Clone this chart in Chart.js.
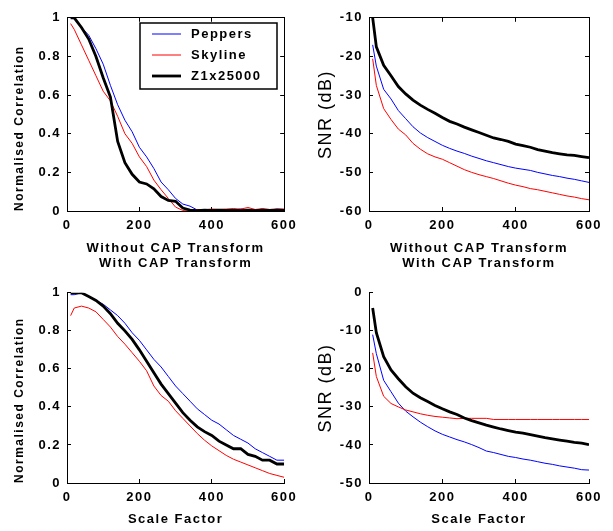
<!DOCTYPE html>
<html>
<head>
<meta charset="utf-8">
<script src="https://cdn.jsdelivr.net/npm/chart.js@4.4.1/dist/chart.umd.min.js"></script>
<style>
  html, body { margin: 0; padding: 0; background: #fff; }
  #wrap { position: relative; width: 613px; height: 531px; }
  canvas { position: absolute; }
</style>
</head>
<body>
<div id="wrap">
  <canvas id="c1" width="306" height="275" style="left:0;top:0"></canvas>
  <canvas id="c2" width="307" height="275" style="left:306px;top:0"></canvas>
  <canvas id="c3" width="306" height="256" style="left:0;top:275px"></canvas>
  <canvas id="c4" width="307" height="256" style="left:306px;top:275px"></canvas>
</div>
<script>
// scale factor samples shared by every curve
var scaleX = [10,20,40,60,80,100,120,140,160,180,200,220,240,260,280,300,320,340,360,380,400,420,440,460,480,500,520,540,560,580,600];
var names = ["Peppers", "Skyline", "Z1x25000"];

// without CAP transform
var corrPeppersA = [1.0,0.995,0.95,0.91,0.84,0.76,0.65,0.55,0.47,0.41,0.33,0.28,0.22,0.15,0.11,0.065,0.036,0.025,0.005,0.005,0.008,0.004,0.008,0.005,0.01,0.006,0.005,0.01,0.004,0.01,0.008];
var corrSkylineA = [0.97,0.94,0.86,0.78,0.70,0.62,0.57,0.49,0.40,0.35,0.28,0.23,0.16,0.11,0.065,0.02,0.003,0.005,0.008,0.006,0.01,0.008,0.01,0.012,0.01,0.018,0.008,0.012,0.008,0.01,0.01];
var corrZ1A = [1.0,1.0,0.95,0.89,0.80,0.69,0.59,0.36,0.25,0.19,0.15,0.14,0.115,0.075,0.055,0.05,0.015,0.005,0.002,0.004,0.003,0.005,0.003,0.004,0.002,0.005,0.002,0.005,0.003,0.005,0.003];

var snrPeppersA = [-17,-22.5,-28.5,-31,-34,-36.1,-38.2,-39.8,-41,-42,-43,-43.8,-44.5,-45.1,-45.8,-46.4,-47,-47.5,-48,-48.5,-48.9,-49.2,-49.5,-50,-50.4,-50.8,-51.1,-51.5,-51.8,-52.2,-52.6];
var snrSkylineA = [-20.6,-27.5,-33.5,-36.3,-38.8,-40.3,-42.5,-44,-45.2,-46,-46.6,-47.5,-48.4,-49.3,-50,-50.6,-51.1,-51.6,-52.2,-52.8,-53.3,-53.7,-54.2,-54.5,-54.9,-55.3,-55.7,-56.1,-56.4,-56.8,-57.1];
var snrZ1A = [-10,-17.5,-22.3,-25,-27.8,-29.7,-31.3,-32.6,-33.7,-34.7,-35.8,-36.8,-37.5,-38.3,-39,-39.7,-40.4,-41.1,-41.5,-42,-42.7,-43.1,-43.5,-44.1,-44.5,-44.9,-45.2,-45.5,-45.6,-45.9,-46.2];

// with CAP transform
var corrPeppersB = [0.99,0.99,1.0,0.98,0.96,0.94,0.91,0.88,0.84,0.79,0.75,0.70,0.65,0.61,0.56,0.51,0.47,0.43,0.39,0.36,0.33,0.31,0.28,0.25,0.23,0.21,0.18,0.16,0.14,0.12,0.12];
var corrSkylineB = [0.88,0.92,0.93,0.92,0.90,0.86,0.82,0.77,0.73,0.685,0.64,0.59,0.51,0.46,0.43,0.38,0.34,0.30,0.26,0.225,0.195,0.17,0.145,0.125,0.11,0.095,0.08,0.065,0.05,0.04,0.03];
var corrZ1B = [1.0,1.0,1.0,0.98,0.96,0.93,0.89,0.84,0.80,0.755,0.70,0.64,0.58,0.52,0.47,0.42,0.37,0.33,0.295,0.27,0.25,0.22,0.20,0.18,0.18,0.15,0.14,0.12,0.12,0.10,0.10];

var snrPeppersB = [-11,-16,-23,-26,-29,-31.1,-32.6,-34,-35.2,-36.3,-37.2,-37.9,-38.6,-39.2,-39.9,-40.7,-41.6,-42,-42.5,-43,-43.3,-43.7,-44,-44.4,-44.8,-45.1,-45.5,-45.8,-46.1,-46.5,-46.6];
var snrSkylineB = [-15.8,-22,-27.2,-29.1,-30,-30.8,-31.3,-31.8,-32.2,-32.5,-32.7,-32.9,-33.1,-33,-33,-33,-33,-33.3,-33.3,-33.3,-33.3,-33.3,-33.3,-33.3,-33.3,-33.3,-33.3,-33.3,-33.3,-33.3,-33.3];
var snrZ1B = [-4,-10.5,-16.8,-20.3,-22.6,-24.7,-26.4,-27.6,-28.6,-29.6,-30.5,-31.3,-32,-32.9,-33.6,-34.2,-34.8,-35.3,-35.8,-36.2,-36.6,-36.9,-37.3,-37.7,-38.1,-38.4,-38.7,-39,-39.3,-39.5,-39.9];

var corrTicks = { min: 0, max: 1, step: 0.2 };
var snrTicksA = { min: -60, max: -10, step: 10 };
var snrTicksB = { min: -50, max: 0, step: 10 };

var FONT = "'Liberation Sans', Arial, Helvetica, sans-serif";
Chart.defaults.font.family = FONT;
Chart.defaults.color = "#000";

function pts(ys) {
  return ys.map(function (y, i) { return { x: scaleX[i], y: y }; });
}

function lines(p, s, z) {
  return [
    { label: names[0], data: pts(p), borderColor: "#0000ff", borderWidth: 1, order: 2 },
    { label: names[1], data: pts(s), borderColor: "#ff0000", borderWidth: 1, order: 1 },
    { label: names[2], data: pts(z), borderColor: "#000000", borderWidth: 2.8, order: 0 }
  ];
}

// wide letter spacing like the original figure
var spacing = {
  id: "spacing",
  beforeDraw: function (chart) { chart.ctx.letterSpacing = "1.5px"; }
};

// boxed key drawn inside the plot area
var keyBox = {
  id: "keyBox",
  afterDatasetsDraw: function (chart, args, o) {
    if (!o || !o.show) return;
    var ctx = chart.ctx;
    ctx.save();
    ctx.fillStyle = "#fff";
    ctx.fillRect(o.x, o.y, o.w, o.h);
    ctx.strokeStyle = "#000";
    ctx.lineWidth = 1.5;
    ctx.strokeRect(o.x, o.y, o.w, o.h);
    ctx.font = "bold 13px " + FONT;
    ctx.textBaseline = "middle";
    chart.data.datasets.forEach(function (ds, i) {
      var yy = o.y + o.first + i * o.step;
      ctx.strokeStyle = ds.borderColor;
      ctx.lineWidth = ds.borderWidth;
      ctx.beginPath();
      ctx.moveTo(o.x + 12, yy);
      ctx.lineTo(o.x + 41, yy);
      ctx.stroke();
      ctx.fillStyle = "#000";
      ctx.fillText(ds.label, o.x + 51, yy);
    });
    ctx.restore();
  }
};

// "1", "0.8", ... "0" rather than "1.0"
function plain(v) { return String(Number(v.toFixed(1))); }

function xAxis(title, h, padBottom, lh) {
  return {
    type: "linear", position: "bottom", min: 0, max: 600,
    ticks: { stepSize: 200, padding: 11, font: { size: 13, weight: "bold" } },
    grid: { drawOnChartArea: false, tickLength: -4, color: "#000" },
    border: { color: "#000", width: 1 },
    title: { display: true, text: title, font: { size: 13, weight: "bold", lineHeight: lh },
             padding: { top: 0, bottom: padBottom } },
    afterFit: function (s) { s.height = h; }
  };
}

function yAxis(t, title, titleFont, w, padTop, align) {
  return {
    type: "linear", position: "left", min: t.min, max: t.max,
    ticks: { stepSize: t.step, padding: 10, font: { size: 13, weight: "bold" }, callback: plain },
    grid: { drawOnChartArea: false, tickLength: -4, color: "#000" },
    border: { color: "#000", width: 1 },
    title: { display: true, text: title, font: titleFont, align: align,
             padding: { top: padTop, bottom: 0 } },
    afterFit: function (s) { s.width = w; }
  };
}

function frameTop(step) {
  return {
    type: "linear", position: "top", min: 0, max: 600,
    ticks: { display: false, stepSize: step },
    grid: { drawOnChartArea: false, tickLength: -4, color: "#000" },
    border: { color: "#000", width: 1 },
    afterFit: function (s) { s.height = 0; }
  };
}

function frameRight(t) {
  return {
    type: "linear", position: "right", min: t.min, max: t.max,
    ticks: { display: false, stepSize: t.step },
    grid: { drawOnChartArea: false, tickLength: -4, color: "#000" },
    border: { color: "#000", width: 1 },
    afterFit: function (s) { s.width = 0; }
  };
}

function panel(id, datasets, scales, padding, key) {
  return new Chart(document.getElementById(id), {
    type: "line",
    data: { datasets: datasets },
    options: {
      responsive: false,
      animation: false,
      layout: { padding: padding },
      elements: { point: { radius: 0 }, line: { tension: 0, fill: false } },
      plugins: {
        legend: { display: false },
        tooltip: { enabled: false },
        keyBox: key || { show: false }
      },
      scales: scales
    },
    plugins: [spacing, keyBox]
  });
}

var corrTitle = { size: 12, weight: "bold" };
var snrTitle = { size: 18, weight: "normal" };
var topTitle = ["Without CAP Transform", "With CAP Transform"];

panel("c1", lines(corrPeppersA, corrSkylineA, corrZ1A), {
  x: xAxis(topTitle, 64, 4.7, 1.12),
  y: yAxis(corrTicks, "Normalised Correlation", corrTitle, 67, 12, "start"),
  x2: frameTop(200),
  y2: frameRight(corrTicks)
}, { top: 15, right: 19, left: 0, bottom: 0 },
{ show: true, x: 140, y: 23, w: 137, h: 66, first: 11, step: 21 });

panel("c2", lines(snrPeppersA, snrSkylineA, snrZ1A), {
  x: xAxis(topTitle, 64, 4.7, 1.12),
  y: yAxis(snrTicksA, "SNR (dB)", snrTitle, 63, 9, "center"),
  x2: frameTop(200),
  y2: frameRight(snrTicksA)
}, { top: 15, right: 24, left: 0, bottom: 0 });

panel("c3", lines(corrPeppersB, corrSkylineB, corrZ1B), {
  x: xAxis("Scale Factor", 48, 4.2, 1.2),
  y: yAxis(corrTicks, "Normalised Correlation", corrTitle, 67, 12, "start")
}, { top: 12, right: 19, left: 0, bottom: 0 });

panel("c4", lines(snrPeppersB, snrSkylineB, snrZ1B), {
  x: xAxis("Scale Factor", 48, 4.2, 1.2),
  y: yAxis(snrTicksB, "SNR (dB)", snrTitle, 63, 9, "center")
}, { top: 11, right: 24, left: 0, bottom: 0 });
</script>
</body>
</html>
